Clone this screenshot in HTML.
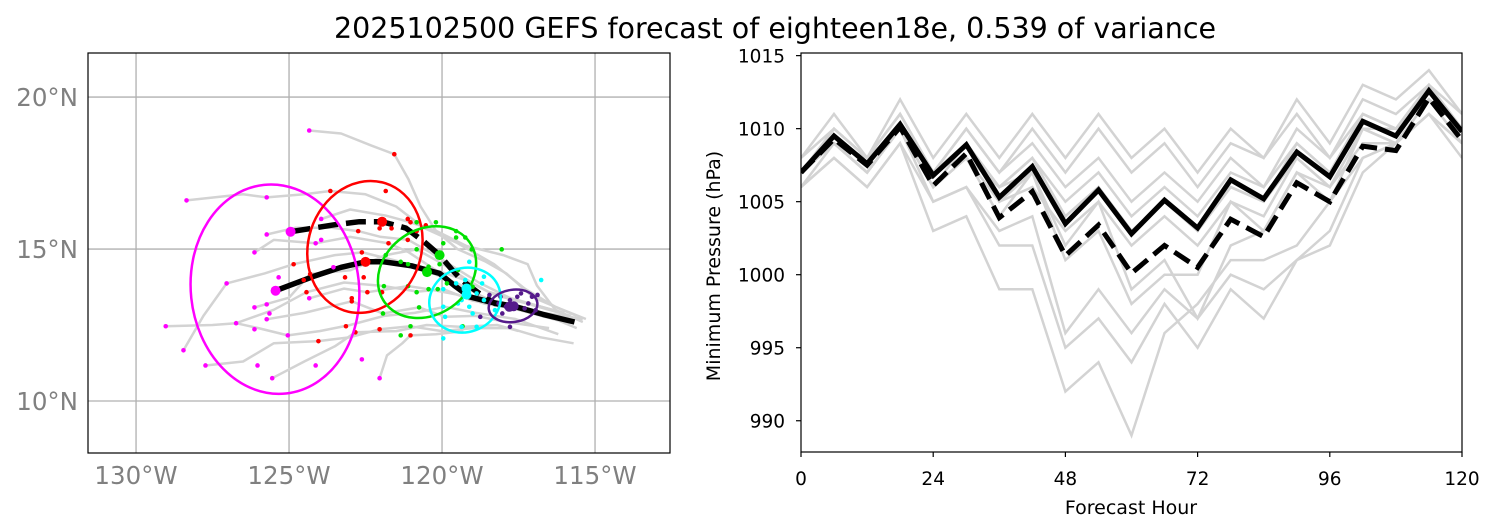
<!DOCTYPE html>
<html><head><meta charset="utf-8"><style>
html,body{margin:0;padding:0;background:#fff;}
svg{display:block;font-family:"DejaVu Sans","Liberation Sans",sans-serif;}
</style></head><body>
<svg id="fig" width="1496" height="532" viewBox="0 0 1496 532">
<defs><clipPath id="mapclip"><rect x="88" y="53" width="582" height="400"/></clipPath>
<clipPath id="pclip"><rect x="801" y="53" width="661" height="399"/></clipPath></defs>
<text x="775" y="38" text-anchor="middle" font-size="28.5" fill="#000">2025102500 GEFS forecast of eighteen18e, 0.539 of variance</text>
<g id="map"></g>
<g id="pres"></g>
</svg>
<script>
// ---------- MAP DATA ----------
const mapLonTicks=[-130,-125,-120,-115];
const mapLatTicks=[10,15,20];
const meanTrackSolid=[[-125.44,13.63],[-124.2,14.1],[-123.3,14.4],[-122.5,14.58],[-121.9,14.58],[-121.0,14.45],[-120.08,14.2],[-119.6,13.8],[-119.1,13.43],[-118.4,13.25],[-117.66,13.12],[-116.7,12.85],[-115.67,12.6]];
const meanTrackDashed=[[-124.95,15.57],[-123.5,15.8],[-122.7,15.9],[-121.96,15.9],[-121.18,15.69],[-120.6,15.25],[-120.08,14.8],[-119.7,14.35],[-119.36,13.98],[-118.8,13.55],[-118.27,13.21],[-117.66,13.12]];
const gtracks=[
[[-124.34,18.9],[-123.3,18.8],[-122.3,18.4],[-121.56,18.12],[-121.1,17.3],[-120.7,16.4],[-120.2,15.6],[-119.2,15.1],[-118.0,14.8],[-117.2,14.5],[-116.9,13.8],[-116.3,13.0],[-115.4,12.6]],
[[-128.35,16.6],[-126.5,16.8],[-125.73,16.7],[-124.5,16.8],[-123.65,16.91],[-122.5,16.8],[-121.5,16.4],[-120.6,15.7],[-119.5,15.2],[-118.3,14.5],[-117.3,13.7],[-116.3,13.1],[-115.3,12.7]],
[[-129.03,12.46],[-127.5,12.5],[-126.73,12.56],[-125.5,13.0],[-124.43,13.58],[-123.2,13.9],[-121.9,13.78],[-120.8,13.6],[-119.96,13.68],[-119.0,13.3],[-117.9,13.1],[-116.8,12.9],[-115.6,12.4]],
[[-128.45,11.67],[-127.8,12.8],[-127.04,13.87],[-125.8,14.2],[-124.85,14.5],[-123.5,14.8],[-122.6,14.89],[-121.35,14.58],[-120.3,14.2],[-119.5,13.87],[-118.6,13.4],[-117.5,13.0],[-116,12.6]],
[[-127.73,11.17],[-126.5,11.3],[-125.5,11.9],[-124.04,11.97],[-123.0,12.1],[-122.04,12.36],[-121.03,12.46],[-120.0,12.3],[-119.0,12.4],[-117.8,12.4],[-116.8,12.1],[-115.7,11.9]],
[[-125.55,10.75],[-124.5,11.3],[-123.5,11.8],[-122.83,12.26],[-121.5,12.3],[-120.5,12.5],[-119.36,12.44],[-118.2,12.5],[-117.5,12.3]],
[[-122.04,10.75],[-121.8,11.5],[-121.3,11.9],[-121.03,12.16],[-120.2,12.2],[-119.3,12.3]],
[[-126.13,13.08],[-125.0,13.4],[-124.31,14.18],[-123.0,14.3],[-121.84,14.8],[-120.83,14.99],[-119.96,14.5],[-119.2,14.0],[-118.5,13.6],[-117.5,13.3],[-116,12.9]],
[[-125.73,12.69],[-124.5,12.9],[-122.95,13.28],[-121.93,12.88],[-120.75,13.08],[-119.9,12.77],[-118.9,12.8],[-117.9,12.6],[-116.5,12.4]],
[[-126.13,14.89],[-125.5,15.3],[-124.13,15.19],[-123.0,15.4],[-121.75,15.19],[-121.1,14.9],[-120.2,14.3],[-119.24,13.98],[-118.3,13.5],[-117.2,13.2],[-115.8,12.8]],
[[-126.73,12.56],[-126.0,12.4],[-125.04,12.16],[-124.0,12.3],[-123.0,12.5],[-121.9,12.8],[-120.9,12.9],[-119.9,13.1],[-118.9,12.9],[-117.6,12.7],[-116.2,12.2]],
[[-124.34,13.38],[-123.2,13.7],[-122.44,13.58],[-121.11,13.78],[-120.44,13.68],[-119.5,13.5],[-118.6,13.2],[-117.3,13.0],[-115.4,12.7]],
[[-123.95,15.99],[-123,16.3],[-121.84,16.1],[-121.1,15.9],[-120.2,15.6],[-119.5,15.0],[-118.6,14.6],[-117.9,14.2],[-117,13.4],[-115.6,12.8]],
[[-125.73,15.48],[-124.8,15.7],[-123.6,15.7],[-122.74,15.59],[-122.0,15.4],[-121.1,15.3],[-120.4,14.9],[-119.6,14.4],[-118.8,13.9],[-117.8,13.4],[-116.4,13.0]]
];
const magentaDots=[[-128.35,16.6],[-125.73,16.7],[-125.73,15.48],[-126.13,14.89],[-127.04,13.87],[-125.34,14.07],[-126.13,13.08],[-125.73,13.18],[-125.64,12.88],[-125.73,12.69],[-126.73,12.56],[-126.13,12.36],[-129.03,12.46],[-128.45,11.67],[-127.73,11.17],[-126.03,11.17],[-125.55,10.75],[-125.04,12.16],[-124.13,11.17],[-124.34,13.38],[-124.13,15.19],[-123.95,15.3],[-123.95,15.99],[-123.55,14.4],[-124.34,18.9],[-122.62,11.37],[-122.04,10.75]];
const redDots=[[-121.56,18.12],[-123.65,16.91],[-121.84,16.91],[-122.74,15.59],[-122.04,15.68],[-121.65,15.68],[-121.12,15.99],[-121.03,15.88],[-121.75,15.19],[-122.62,14.89],[-121.12,15.3],[-120.83,15.59],[-124.85,14.5],[-124.31,14.18],[-124.52,13.98],[-123.17,14.07],[-122.56,14.07],[-124.43,13.58],[-122.95,13.38],[-122.95,13.28],[-122.44,13.58],[-121.96,13.58],[-123.14,12.46],[-122.83,12.26],[-122.04,12.36],[-124.04,11.97],[-121.03,12.16],[-120.53,15.78]];
const greenDots=[[-120.83,15.88],[-120.2,15.88],[-119.54,15.59],[-119.24,15.38],[-119.54,15.38],[-119.96,15.19],[-120.83,14.99],[-119.03,14.99],[-118.05,14.99],[-121.84,14.8],[-121.35,14.58],[-121.11,14.5],[-120.44,14.42],[-120.08,14.5],[-121.9,13.78],[-121.11,13.78],[-120.83,13.58],[-120.44,13.68],[-120.14,13.68],[-119.84,13.87],[-121.93,12.88],[-120.75,13.08],[-121.35,12.16],[-121.03,12.46],[-119.33,12.46],[-119.0,13.76],[-119.48,14.31]];
const cyanDots=[[-119.11,14.58],[-118.63,14.09],[-118.69,13.87],[-119.54,13.87],[-119.24,13.98],[-119.96,13.68],[-118.87,13.54],[-119.36,13.32],[-119.48,13.21],[-119.11,13.1],[-118.63,13.32],[-119.96,13.1],[-119.0,12.88],[-119.9,12.77],[-118.27,12.99],[-119.36,12.44],[-118.87,12.44],[-119.96,12.06],[-116.76,13.98]];
const purpleDots=[[-118.45,13.49],[-118.09,13.43],[-117.78,13.32],[-117.54,13.43],[-117.42,13.54],[-117.06,13.43],[-116.88,13.49],[-117.91,13.1],[-117.3,13.05],[-116.94,12.99],[-118.03,12.88],[-118.75,12.77],[-117.78,12.44],[-118.15,13.21],[-117.18,13.21]];
const ellipseCenters=[[-125.46,13.68],[-122.52,15.07],[-120.49,14.24],[-119.25,13.32],[-117.68,13.13]];
const ellipseRadii=[[2.75,3.45],[1.85,2.2],[1.7,1.4],[1.18,1.05],[0.8,0.53]];
const ellipseAngles=[-6,18,-35,-20,-8];
const ellipseColors=["#ff00ff","#ff0000","#00e000","#00ffff","#551a8b"];
const bigSolid=[[-125.44,13.63],[-122.5,14.58],[-120.49,14.24],[-119.2,13.5],[-117.66,13.12]];
const bigDashed=[[-124.95,15.57],[-121.96,15.9],[-120.08,14.8],[-119.2,13.7],[-117.8,13.1]];

// ---------- PRESSURE DATA ----------
const hours=[0,6,12,18,24,30,36,42,48,54,60,66,72,78,84,90,96,102,108,114,120];
const xTicks=[0,24,48,72,96,120];
const yTicks=[990,995,1000,1005,1010,1015];
const meanSolid=[1007,1009.5,1007.6,1010.3,1006.8,1008.9,1005.3,1007.4,1003.5,1005.8,1002.8,1005.1,1003.2,1006.5,1005.2,1008.4,1006.7,1010.5,1009.5,1012.6,1009.8];
const meanDashed=[1007,1009.3,1007.5,1010.1,1006.1,1008.3,1003.9,1005.7,1001.3,1003.4,1000.1,1002.0,1000.5,1003.8,1002.6,1006.3,1005,1008.8,1008.5,1012.1,1009.2];
const m1=[1008,1011,1008,1012,1008,1011,1008,1011,1008,1011,1008,1010,1007,1010,1008,1012,1009,1013,1012,1014,1011];
const m2=[1007,1010,1008,1011,1007,1010,1007,1010,1007,1010,1007,1009,1006,1009,1008,1011,1008,1012,1011,1013,1010];
const m3=[1006,1008,1006,1009,1003,1004,999,999,992,994,989,996,998,1001,1001,1002,1005,1008,1009,1011,1009];
const m4=[1006,1008,1006,1009,1005,1006,1003,1004,996,999,996,999,997,1000,999,1001,1002,1007,1009,1011,1008];
const m5=[1007,1009,1007,1010,1005,1006,1002,1002,995,997,994,998,995,999,997,1001,1003,1008,1009,1011,1009];
const m6=[1007,1009,1007,1010,1006,1008,1005,1006,1003,1005,1002,1004,1002,1005,1004,1008,1006,1010,1010,1012,1010];
const m7=[1007,1010,1008,1011,1007,1009,1006,1008,1005,1007,1004,1006,1004,1007,1006,1009,1007,1011,1010,1013,1010];
const m8=[1007,1009,1008,1010,1007,1009,1005,1007,1004,1006,1003,1005,1003,1006,1005,1008,1006,1010,1009,1012,1010];
const m9=[1006,1009,1007,1010,1006,1008,1006,1007,1002,1005,999,1001,997,1002,1003,1007,1006,1009,1009,1012,1009];
const m10=[1007,1009,1007,1010,1006,1008,1004,1007,1001,1003,998,1000,1000,1005,1003,1007,1005,1010,1009,1012,1010];
const m11=[1008,1010,1008,1011,1007,1010,1007,1009,1006,1008,1005,1007,1005,1008,1006,1010,1008,1011,1010,1013,1011];
const m12=[1007,1009,1007,1010,1006,1009,1006,1008,1004,1006,1003,1005,1003,1006,1005,1009,1007,1011,1010,1012,1010];
const members=[m1,m2,m3,m4,m5,m6,m7,m8,m9,m10,m11,m12];

const NS="http://www.w3.org/2000/svg";
function mk(tag,attrs,parent){const e=document.createElementNS(NS,tag);for(const k in attrs)e.setAttribute(k,attrs[k]);parent.appendChild(e);return e;}

// ----- map -----
const map=document.getElementById('map');
const MX0=88,MX1=670,MY0=53,MY1=453;
const LON0=-131.57,LON1=-112.55,LAT0=8.29,LAT1=21.45;
const mx=lon=>MX0+(lon-LON0)/(LON1-LON0)*(MX1-MX0);
const my=lat=>MY1-(lat-LAT0)/(LAT1-LAT0)*(MY1-MY0);
const pxPerLon=(MX1-MX0)/(LON1-LON0), pxPerLat=(MY1-MY0)/(LAT1-LAT0);
const mg=mk('g',{'clip-path':'url(#mapclip)'},map);
mapLonTicks.forEach(l=>{const g=mk('line',{x1:mx(l),x2:mx(l),y1:MY0,y2:MY1,stroke:'#b0b0b0','stroke-width':1.3},mg);

});
mapLatTicks.forEach(l=>{const g=mk('line',{x1:MX0,x2:MX1,y1:my(l),y2:my(l),stroke:'#b0b0b0','stroke-width':1.3},mg);

});
const pts=a=>a.map(p=>mx(p[0]).toFixed(1)+','+my(p[1]).toFixed(1)).join(' ');
gtracks.forEach(t=>{const e=mk('polyline',{points:pts(t),fill:'none',stroke:'#d3d3d3','stroke-width':2.5,'stroke-linejoin':'round'},mg);

});
let e=mk('polyline',{points:pts(meanTrackSolid),fill:'none',stroke:'#000','stroke-width':5.5,'stroke-linejoin':'round'},mg);


e=mk('polyline',{points:pts(meanTrackDashed),fill:'none',stroke:'#000','stroke-width':5.5,'stroke-dasharray':'20,8'},mg);


const dotSets=[[magentaDots,'#ff00ff'],[redDots,'#ff0000'],[greenDots,'#00e000'],[cyanDots,'#00ffff'],[purpleDots,'#551a8b']];
dotSets.forEach(([arr,c])=>arr.forEach(p=>{const d=mk('circle',{cx:mx(p[0]),cy:my(p[1]),r:2.3,fill:c},mg);

}));
ellipseCenters.forEach((c,i)=>{const cx=mx(c[0]),cy=my(c[1]);
const el=mk('ellipse',{cx:cx,cy:cy,rx:ellipseRadii[i][0]*pxPerLon,ry:ellipseRadii[i][1]*pxPerLat,fill:'none',stroke:ellipseColors[i],'stroke-width':2.5,transform:`rotate(${ellipseAngles[i]} ${cx} ${cy})`},mg);

});
[bigSolid,bigDashed].forEach(arr=>arr.forEach((p,i)=>{const d=mk('circle',{cx:mx(p[0]),cy:my(p[1]),r:5,fill:ellipseColors[i]},mg);

}));
e=mk('rect',{x:MX0,y:MY0,width:MX1-MX0,height:MY1-MY0,fill:'none',stroke:'#000','stroke-width':1.2},map);


mapLonTicks.forEach(l=>{const t=mk('text',{x:mx(l),y:484,'text-anchor':'middle','font-size':24.5,fill:'#808080'},map);t.textContent=Math.abs(l)+'°W';

});
mapLatTicks.forEach(l=>{const t=mk('text',{x:78,y:my(l)+9,'text-anchor':'end','font-size':24.5,fill:'#808080'},map);t.textContent=l+'°N';

});

// ----- pressure chart -----
const pr=document.getElementById('pres');
const PX0=801,PX1=1462,PY0=53,PY1=452,YMIN=987.86,YMAX=1015.18;
const px=h=>PX0+h/120*(PX1-PX0);
const py=v=>PY1-(v-YMIN)/(YMAX-YMIN)*(PY1-PY0);
const pg=mk('g',{'clip-path':'url(#pclip)'},pr);
const line=a=>a.map((v,i)=>px(hours[i]).toFixed(1)+','+py(v).toFixed(1)).join(' ');
members.forEach(m=>{const l=mk('polyline',{points:line(m),fill:'none',stroke:'#d3d3d3','stroke-width':2.5},pg);

});
e=mk('polyline',{points:line(meanDashed),fill:'none',stroke:'#000','stroke-width':5,'stroke-dasharray':'18,8'},pg);


e=mk('polyline',{points:line(meanSolid),fill:'none',stroke:'#000','stroke-width':5},pg);


e=mk('rect',{x:PX0,y:PY0,width:PX1-PX0,height:PY1-PY0,fill:'none',stroke:'#000','stroke-width':1.2},pr);


xTicks.forEach(h=>{mk('line',{x1:px(h),x2:px(h),y1:PY1,y2:PY1+5,stroke:'#000','stroke-width':1.2},pr);
const t=mk('text',{x:px(h),y:485,'text-anchor':'middle','font-size':18.5,fill:'#000'},pr);t.textContent=h;

});
yTicks.forEach(v=>{mk('line',{x1:PX0-5,x2:PX0,y1:py(v),y2:py(v),stroke:'#000','stroke-width':1.2},pr);
const t=mk('text',{x:785,y:py(v)+7,'text-anchor':'end','font-size':18.5,fill:'#000'},pr);t.textContent=v;

});
let t=mk('text',{x:1131,y:514,'text-anchor':'middle','font-size':19,fill:'#000'},pr);t.textContent='Forecast Hour';


t=mk('text',{x:720,y:266,'text-anchor':'middle','font-size':19,fill:'#000',transform:'rotate(-90 720 266)'},pr);t.textContent='Minimum Pressure (hPa)';


</script>
</body></html>
